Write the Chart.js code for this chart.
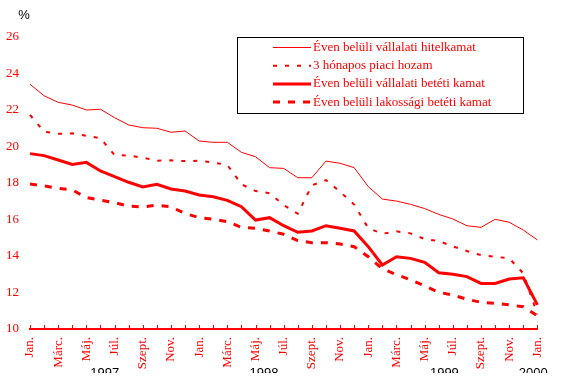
<!DOCTYPE html>
<html><head><meta charset="utf-8">
<script src="https://cdn.jsdelivr.net/npm/chart.js@4/dist/chart.umd.min.js"></script>
<style>html,body{margin:0;padding:0;background:#fff}#wrap{width:561px;height:392px;position:relative}</style>
</head><body><div id="wrap"><canvas id="c" width="561" height="392"></canvas></div>
<script>
const months = ['Jan.','Febr.','Márc.','Ápr.','Máj.','Jún.','Júl.','Aug.','Szept.','Okt.','Nov.','Dec.',
  'Jan.','Febr.','Márc.','Ápr.','Máj.','Jún.','Júl.','Aug.','Szept.','Okt.','Nov.','Dec.',
  'Jan.','Febr.','Márc.','Ápr.','Máj.','Jún.','Júl.','Aug.','Szept.','Okt.','Nov.','Dec.','Jan.'];
const hitelkamat = [23.41,22.78,22.42,22.27,22.0,22.04,21.58,21.18,21.03,21.0,20.78,20.85,
  20.3,20.23,20.23,19.68,19.44,18.84,18.8,18.29,18.29,19.2,19.08,18.84,
  17.8,17.12,17.01,16.83,16.6,16.28,16.03,15.66,15.57,16.01,15.85,15.42,14.88];
const piaciHozam = [21.73,20.81,20.7,20.72,20.59,20.45,19.53,19.5,19.39,19.22,19.24,19.2,
  19.22,19.12,18.99,17.93,17.56,17.44,16.79,16.32,17.87,18.16,17.52,16.82,
  15.53,15.22,15.35,15.24,14.93,14.82,14.53,14.27,14.05,13.96,13.87,13.05,10.8];
const vallalatiBetet = [19.61,19.5,19.26,19.02,19.13,18.66,18.35,18.04,17.78,17.93,17.67,17.56,
  17.34,17.25,17.05,16.7,15.97,16.1,15.66,15.3,15.37,15.66,15.52,15.37,
  14.51,13.51,13.96,13.87,13.65,13.08,13.0,12.87,12.5,12.5,12.74,12.81,11.32];
const lakossagiBetet = [17.95,17.84,17.71,17.62,17.2,17.06,16.92,16.73,16.69,16.79,16.69,16.33,
  16.1,16.01,15.88,15.57,15.52,15.37,15.19,14.84,14.73,14.73,14.66,14.51,
  13.96,13.3,12.98,12.7,12.36,12.01,11.86,11.63,11.46,11.41,11.32,11.22,10.72];
const seriesNames = ['Éven belüli vállalati hitelkamat','3 hónapos piaci hozam',
  'Éven belüli vállalati betéti kamat','Éven belüli lakossági betéti kamat'];
const yTicks = [10,12,14,16,18,20,22,24,26];
const yearLabels = ['1997','1998','1999','2000'];
const yearPositions = [5.3,16.6,29.4,35.7];
const unitLabel = '%';

const RED = '#ff0000';
const SERIF = '"Liberation Serif", "Times New Roman", serif';
const SANS = '"Liberation Sans", Arial, sans-serif';

const decor = {
  id: 'decor',
  afterDraw(chart) {
    const ctx = chart.ctx, xs = chart.scales.x, area = chart.chartArea;
    ctx.save();
    // tick marks pointing up
    ctx.strokeStyle = RED; ctx.lineWidth = 1;
    xs.ticks.forEach((t, i) => {
      const px = Math.round(xs.getPixelForTick(i)) + 0.5;
      ctx.beginPath(); ctx.moveTo(px, area.bottom); ctx.lineTo(px, area.bottom - 4); ctx.stroke();
    });
    // unit label
    ctx.fillStyle = '#000'; ctx.font = '13px ' + SANS;
    ctx.textAlign = 'center'; ctx.textBaseline = 'middle';
    ctx.fillText(unitLabel, 24, 15);
    // year labels (clipped)
    ctx.save();
    ctx.beginPath(); ctx.rect(0, 0, chart.width, 373); ctx.clip();
    ctx.textBaseline = 'top';
    yearLabels.forEach((y, i) => ctx.fillText(y, xs.getPixelForValue(yearPositions[i]), 367));
    ctx.restore();
    // legend box
    ctx.strokeStyle = '#000'; ctx.lineWidth = 1;
    ctx.strokeRect(237.5, 37.5, 286, 76);
    ctx.font = '13px ' + SERIF; ctx.textAlign = 'left'; ctx.textBaseline = 'middle';
    chart.data.datasets.forEach((ds, i) => {
      const y = 47.5 + i * 18.2;
      ctx.save();
      ctx.strokeStyle = ds.borderColor; ctx.lineWidth = ds.borderWidth;
      ctx.setLineDash(ds.borderDash || []);
      ctx.beginPath(); ctx.moveTo(273, y); ctx.lineTo(311, y); ctx.stroke();
      ctx.restore();
      ctx.fillStyle = RED;
      ctx.fillText(ds.label, 313, y);
    });
    ctx.restore();
  }
};

new Chart(document.getElementById('c'), {
  type: 'line',
  data: {
    labels: months,
    datasets: [
      { label: seriesNames[0], data: hitelkamat, borderColor: RED, borderWidth: 1, borderDash: [] },
      { label: seriesNames[1], data: piaciHozam, borderColor: RED, borderWidth: 2, borderDash: [4, 8] },
      { label: seriesNames[2], data: vallalatiBetet, borderColor: RED, borderWidth: 3, borderDash: [] },
      { label: seriesNames[3], data: lakossagiBetet, borderColor: RED, borderWidth: 3, borderDash: [7, 8] }
    ]
  },
  options: {
    responsive: false,
    animation: false,
    events: [],
    elements: { point: { radius: 0 }, line: { tension: 0, fill: false } },
    layout: { padding: { top: 37, right: 16, left: 0, bottom: 0 } },
    plugins: { legend: { display: false }, tooltip: { enabled: false } },
    scales: {
      x: {
        type: 'category',
        offset: false,
        grid: { display: false, drawTicks: false },
        border: { display: true, color: RED, width: 2 },
        ticks: {
          autoSkip: false, minRotation: 90, maxRotation: 90, padding: 8,
          color: RED, font: { family: SERIF, size: 13 },
          callback: (v, i) => (i % 2 === 0 ? months[i] : '')
        },
        afterFit: s => { s.height = 63; }
      },
      y: {
        min: yTicks[0], max: yTicks[yTicks.length - 1],
        afterBuildTicks: s => { s.ticks = yTicks.map(v => ({ value: v })); },
        grid: { display: false, drawTicks: false },
        border: { display: false },
        ticks: { color: RED, padding: 11, font: { family: SERIF, size: 13 } },
        afterFit: s => { s.width = 30; }
      }
    }
  },
  plugins: [decor]
});
</script>
</body></html>
